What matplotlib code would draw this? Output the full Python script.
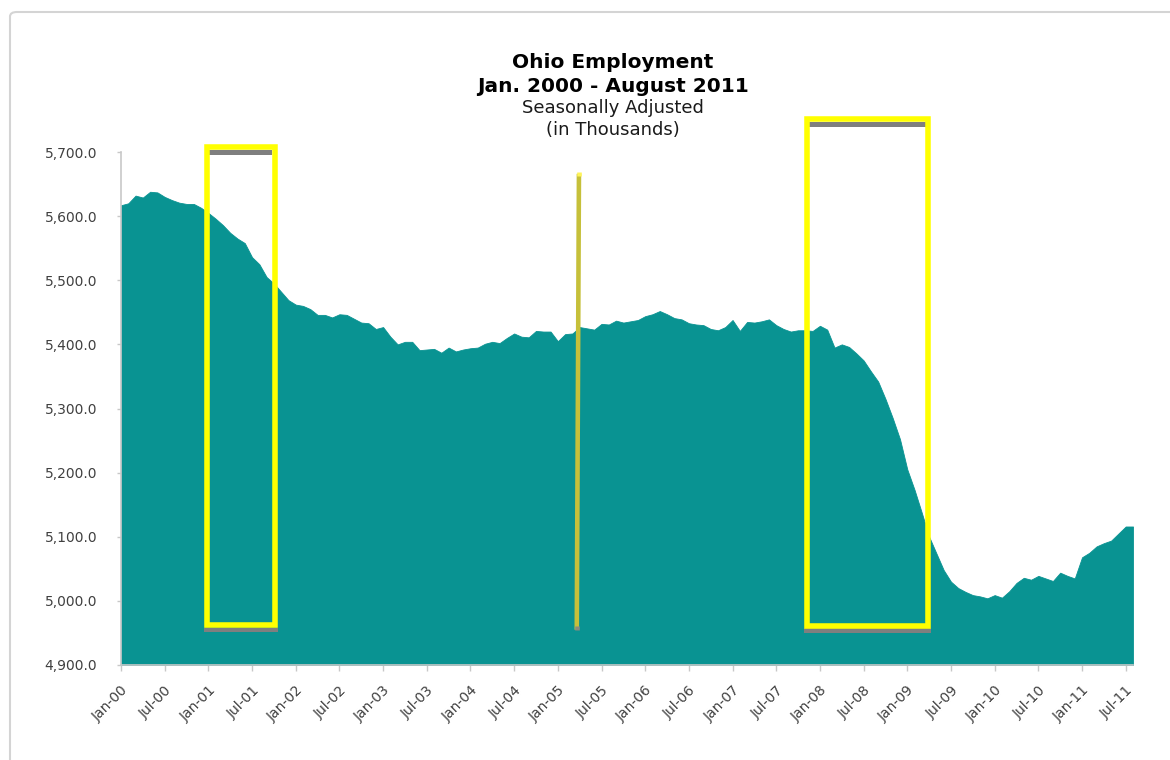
import matplotlib
matplotlib.use("Agg")
import matplotlib.pyplot as plt
from matplotlib.patches import Rectangle, FancyBboxPatch
import numpy as np

# ---- data (thousands, seasonally adjusted, Jan 2000 .. Aug 2011) ----
employment = [
    5617, 5620, 5632, 5629, 5638, 5637, 5630, 5625, 5621, 5619, 5619, 5613,   # 2000
    5605, 5596, 5586, 5574, 5565, 5558, 5536, 5525, 5505, 5495, 5482, 5469,   # 2001
    5462, 5460, 5455, 5446, 5446, 5442, 5447, 5446, 5440, 5434, 5433, 5424,   # 2002
    5427, 5412, 5400, 5404, 5404, 5391, 5392, 5393, 5387, 5395, 5389, 5392,   # 2003
    5394, 5395, 5401, 5404, 5402, 5410, 5417, 5412, 5411, 5421, 5420, 5420,   # 2004
    5405, 5416, 5417, 5427, 5425, 5423, 5432, 5431, 5437, 5434, 5436, 5438,   # 2005
    5444, 5447, 5452, 5447, 5441, 5439, 5433, 5431, 5430, 5424, 5422, 5427,   # 2006
    5438, 5421, 5435, 5434, 5436, 5439, 5430, 5424, 5420, 5422, 5422, 5421,   # 2007
    5429, 5423, 5395, 5400, 5396, 5386, 5375, 5358, 5342, 5315, 5285, 5252,   # 2008
    5205, 5173, 5137, 5100, 5074, 5048, 5030, 5020, 5014, 5009, 5007, 5004,   # 2009
    5009, 5005, 5015, 5028, 5036, 5033, 5039, 5035, 5031, 5044, 5039, 5035,   # 2010
    5068, 5075, 5085, 5090, 5094, 5105, 5116, 5116,                           # 2011
]
tick_labels = ["Jan-00", "Jul-00", "Jan-01", "Jul-01", "Jan-02", "Jul-02",
               "Jan-03", "Jul-03", "Jan-04", "Jul-04", "Jan-05", "Jul-05",
               "Jan-06", "Jul-06", "Jan-07", "Jul-07", "Jan-08", "Jul-08",
               "Jan-09", "Jul-09", "Jan-10", "Jul-10", "Jan-11", "Jul-11"]
y_ticks = [4900, 5000, 5100, 5200, 5300, 5400, 5500, 5600, 5700]

# annotation boxes (month index start/end, value bottom/top, gray top bar range)
box1 = (11.8, 21.1, 4962, 5708, 5695, 5703)
box2 = (94.2, 110.9, 4961, 5751, 5739, 5747)
mid_line = (62.9, 62.6, 5666, 4955)

TEAL = "#099392"
YELLOW = "#ffff00"
GRAY = "#7f7f7f"

fig = plt.figure(figsize=(11.7, 7.6), dpi=100)
fig.patch.set_facecolor("white")

# outer chart frame
frame = FancyBboxPatch((10 / 1170, -0.05), 1.2, 1.05 - 12 / 760,
                       boxstyle="round,pad=0,rounding_size=0.006",
                       transform=fig.transFigure, facecolor="white",
                       edgecolor="#d4d4d4", linewidth=1.5, zorder=-10)
fig.add_artist(frame)

ax = fig.add_axes([121 / 1170, 1 - 665 / 760, 1012 / 1170, 513 / 760])
ax.set_facecolor("none")
ax.set_zorder(1)

x = np.arange(len(employment))
ax.fill_between(x, employment, 4900, color=TEAL, linewidth=0.6,
                edgecolor=TEAL, zorder=2)

ax.set_xlim(0, len(employment) - 1)
ax.set_ylim(4900, 5700)

ax.set_yticks(y_ticks)
ax.set_yticklabels([f"{v:,.1f}" for v in y_ticks])
ax.set_xticks(np.arange(0, len(employment), 6))
ax.set_xticklabels(tick_labels, rotation=45, ha="right", va="top",
                   rotation_mode="anchor")

for s in ["top", "right"]:
    ax.spines[s].set_visible(False)
for s in ["left", "bottom"]:
    ax.spines[s].set_color("#c8c8c8")
    ax.spines[s].set_linewidth(1.2)
ax.tick_params(axis="y", length=3, width=1, color="#c8c8c8", pad=14,
               labelsize=10, labelcolor="#404040")
ax.tick_params(axis="x", length=4, width=1, color="#c8c8c8", pad=9,
               labelsize=10, labelcolor="#404040")

# annotation boxes with gray bars
def yellow_box(b):
    x0, x1, y0, y1, g0, g1 = b
    ax.add_patch(Rectangle((x0 - 0.4, y0 - 11), (x1 - x0) + 0.8, 7,
                           facecolor=GRAY, edgecolor="none", zorder=4,
                           clip_on=False))
    ax.add_patch(Rectangle((x0 + 0.35, g0), (x1 - x0) - 0.7, g1 - g0,
                           facecolor=GRAY, edgecolor="none", zorder=4,
                           clip_on=False))
    ax.add_patch(Rectangle((x0, y0), x1 - x0, y1 - y0, facecolor="none",
                           edgecolor=YELLOW, linewidth=4.0, zorder=5,
                           clip_on=False, joinstyle="miter"))

yellow_box(box1)
yellow_box(box2)

mx0, mx1, my_top, my_bot = mid_line
ax.plot([mx0, mx1], [my_top, my_bot], color="#c6c03a", linewidth=3.3,
        solid_capstyle="butt", zorder=5, clip_on=False)
ax.plot([mx0, mx0], [my_top + 3, my_top - 4], color="#fff45a", linewidth=3.3,
        solid_capstyle="butt", zorder=6, clip_on=False)
ax.plot([mx1, mx1], [my_bot + 6, my_bot], color="#8a8a80", linewidth=3.3,
        solid_capstyle="butt", zorder=6, clip_on=False)

# titles
tx = 613 / 1170
fig.text(tx, 1 - 62 / 760, "Ohio Employment", ha="center", va="center",
         fontsize=14.5, fontweight="bold", color="#000000")
fig.text(tx, 1 - 86 / 760, "Jan. 2000 - August 2011", ha="center",
         va="center", fontsize=14.5, fontweight="bold", color="#000000")
fig.text(tx, 1 - 108 / 760, "Seasonally Adjusted", ha="center", va="center",
         fontsize=13, color="#1a1a1a")
fig.text(tx, 1 - 130 / 760, "(in Thousands)", ha="center", va="center",
         fontsize=13, color="#1a1a1a")

fig.savefig("out.png", dpi=100, facecolor="white")
